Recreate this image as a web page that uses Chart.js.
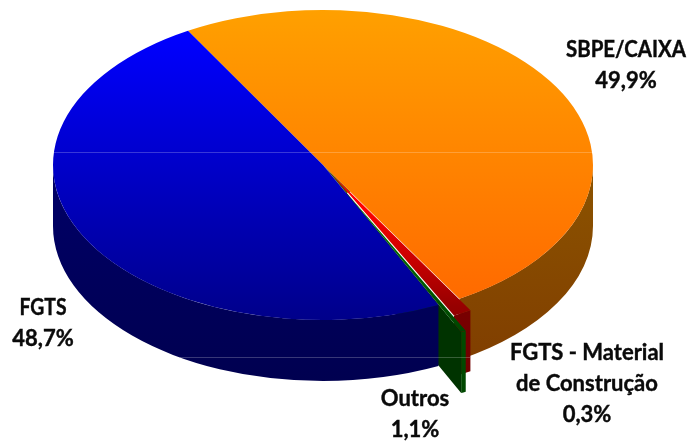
<!DOCTYPE html>
<html><head><meta charset="utf-8">
<style>html,body{margin:0;padding:0;background:#fff}canvas{display:block}</style>
<script src="https://cdn.jsdelivr.net/npm/chart.js@4"></script>
</head><body><canvas id="c" width="693" height="446"></canvas>
<script>
const categories = ['SBPE/CAIXA', 'Outros', 'FGTS - Material de Construção', 'FGTS'];
const shares = [49.9, 1.1, 0.3, 48.7];
const explode = [0, 23, 52, 0];
const W = 693, H = 446, R = 270, K = 155 / 270, CX = 323, CY = 165, DEPTH = 61;
const canvas = document.getElementById('c');
const g = canvas.getContext('2d');
function topGrad(stops) {
  const gr = g.createLinearGradient(0, H / 2 - R, 0, H / 2 + R);
  stops.forEach(s => gr.addColorStop(s[0], s[1]));
  return gr;
}
function wallGrad(a, b) {
  const gr = g.createLinearGradient(0, CY, 0, CY + R * K + DEPTH);
  gr.addColorStop(0, a); gr.addColorStop(1, b);
  return gr;
}
const topFill = [
  topGrad([[0, '#FFA000'], [1, '#FF6600']]),
  topGrad([[0, '#FF0000'], [0.6, '#FF0000'], [0.92, '#960000'], [1, '#900000']]),
  topGrad([[0, '#007000'], [0.6, '#007000'], [1, '#004000']]),
  topGrad([[0, '#0000FF'], [0.08, '#0000FF'], [1, '#00008A']])
];
const wallFill = [
  wallGrad('#8C5400', '#7F3C00'),
  wallGrad('#8A0000', '#700000'),
  wallGrad('#005800', '#004800'),
  wallGrad('#000068', '#000050')
];
const labelSlots = [
  {x: 626, y: 50, lines: ['SBPE/CAIXA'], fit: 120},
  {x: 415, y: 399, lines: ['Outros']},
  {x: 587, y: 353, lines: ['FGTS - Material', 'de Construção']},
  {x: 43, y: 308, lines: ['FGTS'], fit: 47}
];
const pie3d = {
  id: 'pie3d',
  afterDatasetsUpdate(chart) {
    // pull the small slices out of the pie along their own bisector
    chart.getDatasetMeta(0).data.forEach((arc, i) => {
      if (!explode[i] || arc.__wrapped) return;
      const draw = arc.draw;
      arc.draw = function (ctx) {
        const mid = (this.startAngle + this.endAngle) / 2;
        ctx.save();
        ctx.translate(Math.cos(mid) * explode[i], Math.sin(mid) * explode[i]);
        draw.call(this, ctx);
        ctx.restore();
      };
      arc.__wrapped = true;
    });
  },
  beforeDatasetsDraw(chart) {
    const ctx = chart.ctx, arcs = chart.getDatasetMeta(0).data;
    const geo = (a, i) => {
      const mid = (a.startAngle + a.endAngle) / 2;
      return {x: CX + Math.cos(mid) * explode[i], y: CY + Math.sin(mid) * explode[i] * K, r: R};
    };
    const rim = (a, i) => {
      const c = geo(a, i);
      const s = Math.max(a.startAngle, 0), e = Math.min(a.endAngle, Math.PI);
      ctx.beginPath();
      ctx.ellipse(c.x, c.y, c.r, c.r * K, 0, s, e);
      ctx.ellipse(c.x, c.y + DEPTH, c.r, c.r * K, 0, e, s, true);
      ctx.closePath();
      ctx.fillStyle = wallFill[i];
      ctx.fill();
    };
    ctx.save();
    rim(arcs[0], 0);
    rim(arcs[1], 1);
    // visible cut face of the far-exploded slice
    const a2 = arcs[2], c2 = geo(a2, 2);
    const ex = c2.x + Math.cos(a2.endAngle) * c2.r, ey = c2.y + Math.sin(a2.endAngle) * c2.r * K;
    rim(a2, 2);
    ctx.beginPath();
    ctx.moveTo(c2.x, c2.y); ctx.lineTo(ex, ey); ctx.lineTo(ex, ey + DEPTH); ctx.lineTo(c2.x, c2.y + DEPTH);
    ctx.closePath();
    ctx.fillStyle = '#003300';
    ctx.fill();
    rim(arcs[3], 3);
    ctx.restore();
    // top faces: squash the library's circular arcs into the ellipse
    ctx.save();
    ctx.translate(CX, CY);
    ctx.scale(1, K);
    ctx.translate(-arcs[0].x, -arcs[0].y);
    // backing for the sliver left open by the exploded slices
    ctx.beginPath();
    ctx.moveTo(arcs[0].x, arcs[0].y);
    ctx.arc(arcs[0].x, arcs[0].y, R * 0.2, arcs[1].startAngle, arcs[2].endAngle);
    ctx.closePath();
    ctx.fillStyle = '#5A5000';
    ctx.fill();
  },
  afterDatasetsDraw(chart) {
    const ctx = chart.ctx;
    ctx.restore();
    ctx.save();
    ctx.strokeStyle = 'rgba(255,255,255,0.22)';
    ctx.lineWidth = 1;
    ctx.beginPath();
    ctx.moveTo(53, 152.5); ctx.lineTo(593, 152.5);
    ctx.moveTo(180, 357.5); ctx.lineTo(470, 357.5);
    ctx.stroke();
    ctx.restore();
    ctx.save();
    ctx.fillStyle = '#0a0a0a';
    ctx.strokeStyle = '#0a0a0a';
    ctx.lineWidth = 0.4;
    ctx.font = 'bold 22px Lato';
    ctx.textAlign = 'center';
    ctx.textBaseline = 'middle';
    const put = (t, x, y, fit) => {
      if (fit) { ctx.fillText(t, x, y, fit); ctx.strokeText(t, x, y, fit); }
      else { ctx.fillText(t, x, y); ctx.strokeText(t, x, y); }
    };
    labelSlots.forEach((l, i) => {
      l.lines.forEach((t, n) => put(t, l.x, l.y + n * 31, l.fit));
      put(shares[i].toFixed(1).replace('.', ',') + '%', l.x, l.y + l.lines.length * 31);
    });
    ctx.restore();
  }
};
new Chart(canvas, {
  type: 'pie',
  data: {
    labels: categories,
    datasets: [{
      data: shares,
      backgroundColor: topFill,
      borderWidth: 0,
      clip: false
    }]
  },
  options: {
    responsive: false,
    animation: false,
    rotation: -30,
    radius: R,
    layout: {padding: 0},
    plugins: {legend: {display: false}, tooltip: {enabled: false}, title: {display: false}}
  },
  plugins: [pie3d]
});
</script>
</body></html>
